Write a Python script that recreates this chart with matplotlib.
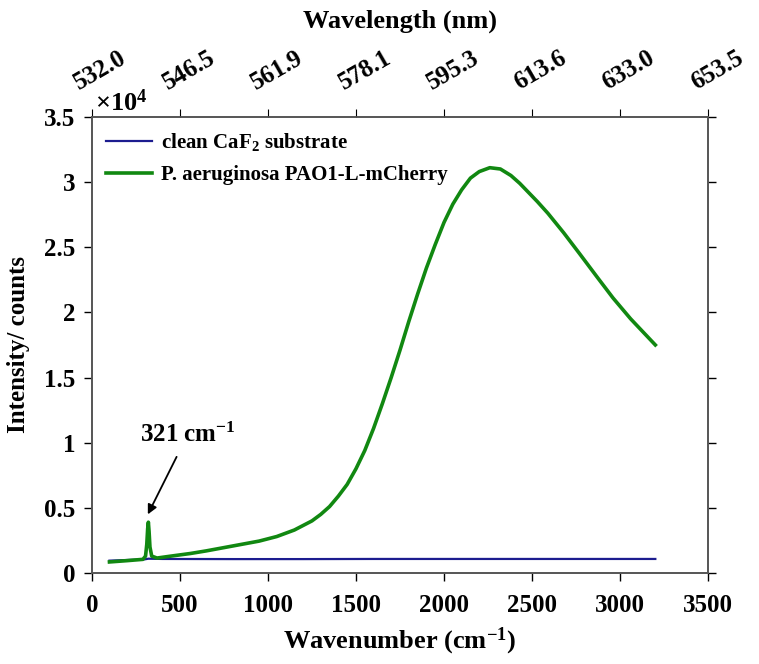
import numpy as np
import matplotlib
matplotlib.use('Agg')
import matplotlib.pyplot as plt
import matplotlib.transforms as mtransforms

plt.rcParams['font.family'] = ['Liberation Serif', 'DejaVu Serif']
plt.rcParams['font.weight'] = 'bold'
plt.rcParams['mathtext.fontset'] = 'custom'
plt.rcParams['mathtext.rm'] = 'Liberation Serif:bold'
plt.rcParams['mathtext.it'] = 'Liberation Serif:bold'
plt.rcParams['mathtext.bf'] = 'Liberation Serif:bold'

# values (intensity in units of 1e4 counts)
wn_sample = [100, 200, 290, 305, 312, 317, 321, 325, 330, 340, 370, 450, 560, 650,
             750, 850, 950, 1050, 1150, 1250, 1300, 1350, 1400, 1450, 1500, 1550,
             1600, 1650, 1700, 1750, 1800, 1850, 1900, 1950, 2000, 2050, 2100,
             2150, 2200, 2260, 2320, 2380, 2430, 2480, 2530, 2590, 2680, 2770,
             2870, 2960, 3060, 3130, 3200]
int_sample = [0.085, 0.095, 0.105, 0.13, 0.22, 0.34, 0.39, 0.32, 0.20, 0.13, 0.115,
              0.13, 0.15, 0.17, 0.195, 0.22, 0.245, 0.28, 0.33, 0.40, 0.45, 0.51,
              0.59, 0.68, 0.80, 0.94, 1.11, 1.30, 1.50, 1.71, 1.93, 2.14, 2.34,
              2.52, 2.69, 2.83, 2.94, 3.03, 3.08, 3.11, 3.10, 3.05, 2.99, 2.92,
              2.85, 2.76, 2.61, 2.45, 2.27, 2.11, 1.95, 1.85, 1.75]

wn_clean = [100, 200, 300, 321, 400, 800, 1200, 1600, 2000, 2400, 2800, 3200]
int_clean = [0.095, 0.10, 0.105, 0.11, 0.108, 0.107, 0.107, 0.108, 0.108, 0.108, 0.108, 0.108]

top_ticks = [0, 500, 1000, 1500, 2000, 2500, 3000, 3500]
top_labels = ['532.0', '546.5', '561.9', '578.1', '595.3', '613.6', '633.0', '653.5']

fig = plt.figure(figsize=(7.59, 6.64), dpi=100)
ax = fig.add_axes([0.121, 0.137, 0.812, 0.687])

ax.plot(wn_clean, int_clean, color='#1c1c8f', lw=1.6, label='clean CaF$_2$ substrate')
ax.plot(wn_sample, int_sample, color='#118811', lw=2.6, label='P. aeruginosa PAO1-L-mCherry')

ax.set_xlim(0, 3500)
ax.set_ylim(0, 3.5)
ax.set_xticks(top_ticks)
ax.set_yticks([0, 0.5, 1, 1.5, 2, 2.5, 3, 3.5])
ax.set_yticklabels(['0', '0.5', '1', '1.5', '2', '2.5', '3', '3.5'])
ax.tick_params(axis='both', direction='out', labelsize=18, length=6, width=1, pad=6)
ax.tick_params(axis='x', pad=9)
ax.tick_params(axis='y', right=True, which='both')
for s in ax.spines.values():
    s.set_color('#555555')
    s.set_linewidth(1.2)

ax.set_xlabel('Wavenumber (cm$^{-1}$)', fontsize=19, fontweight='bold', labelpad=6)
ax.set_ylabel('Intensity/ counts', fontsize=18, fontweight='bold', labelpad=10)

ax2 = ax.twiny()
ax2.set_xlim(ax.get_xlim())
ax2.set_xticks(top_ticks)
ax2.set_xticklabels(top_labels)
ax2.tick_params(axis='x', direction='out', labelsize=18, length=6, pad=10)
for lab in ax2.get_xticklabels():
    lab.set_rotation(30)
    lab.set_ha('left')
    lab.set_va('bottom')
    lab.set_rotation_mode('anchor')
    lab.set_transform(lab.get_transform() + mtransforms.ScaledTranslation(-10 / 100, 0, fig.dpi_scale_trans))
ax2.set_xlabel('Wavelength (nm)', fontsize=19, fontweight='bold', labelpad=14)
for s in ax2.spines.values():
    s.set_color('#555555')
    s.set_linewidth(1.2)

ax.text(0.005, 1.003, r'$\times10^4$', transform=ax.transAxes, fontsize=19,
        ha='left', va='bottom')

ax.legend(loc='upper left', frameon=False, handlelength=2.2, handletextpad=0.4,
          borderaxespad=0.3, labelspacing=0.55, prop={'weight': 'bold', 'size': 15})

ax.annotate('321 cm$^{-1}$', xy=(318, 0.45), xytext=(545, 0.97),
            fontsize=18, fontweight='bold', ha='center', va='bottom',
            arrowprops=dict(arrowstyle='-|>', color='black', lw=1.3,
                            shrinkA=6, shrinkB=0, mutation_scale=14))

fig.savefig('out.png', dpi=100)
